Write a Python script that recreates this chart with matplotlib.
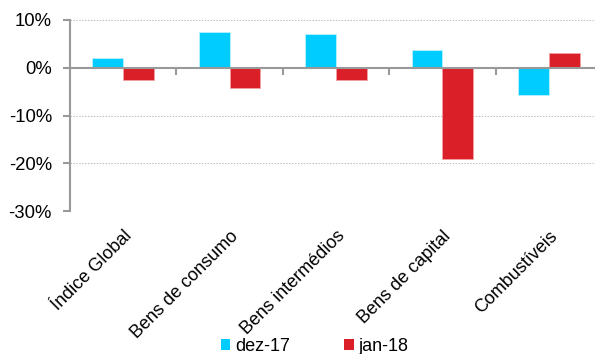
import numpy as np
import matplotlib.pyplot as plt
from matplotlib.patches import Patch
from matplotlib.ticker import FuncFormatter

plt.rcParams['font.family'] = ['Liberation Sans', 'DejaVu Sans']

categorias = ["Índice Global", "Bens de consumo", "Bens intermédios",
              "Bens de capital", "Combustíveis"]
dez17 = [2.1, 7.5, 7.1, 3.7, -5.7]
jan18 = [-2.6, -4.3, -2.5, -19.2, 3.1]
series = ["dez-17", "jan-18"]
cores = ["#00CCFF", "#DA1F28"]

x = np.arange(len(categorias))
w = 0.29

fig = plt.figure(figsize=(5.95, 3.54), dpi=100)
ax = fig.add_axes([70 / 595, 1 - 211 / 354, 532 / 595, 191 / 354])

ax.bar(x - w / 2, dez17, w, color=cores[0], edgecolor="#b8f0ff", linewidth=0.6, zorder=3)
ax.bar(x + w / 2, jan18, w, color=cores[1], edgecolor="#f0a0a4", linewidth=0.6, zorder=3)

ax.set_xlim(-0.5, len(categorias) - 0.5)
ax.set_ylim(-30, 10)
ax.set_yticks([-30, -20, -10, 0, 10])
ax.yaxis.set_major_formatter(FuncFormatter(lambda v, p: "%d%%" % v))
ax.grid(axis="y", color="#bbbbbb", linestyle=(0, (1.5, 1.5)), linewidth=0.7, zorder=0)

for s in ["top", "right"]:
    ax.spines[s].set_visible(False)
ax.spines["left"].set_color("#999999")
ax.spines["left"].set_linewidth(1.5)
ax.spines["bottom"].set_position(("data", 0))
ax.spines["bottom"].set_color("#999999")
ax.spines["bottom"].set_linewidth(1.5)
ax.spines["bottom"].set_zorder(4)

ax.tick_params(axis="y", direction="out", length=5, width=1.5, color="#999999",
               labelsize=13.3, pad=8, labelcolor="black")
ax.set_xticks(x)
ax.set_xticklabels([])
ax.tick_params(axis="x", which="major", length=0)
ax.set_xticks(x[:-1] + 0.5, minor=True)
ax.tick_params(axis="x", which="minor", direction="out", length=5, width=1.5, color="#999999")

sec = ax.secondary_xaxis(0)
sec.set_xticks(x)
sec.set_xticklabels(categorias, rotation=45, ha="right", rotation_mode="anchor", fontsize=13)
sec.tick_params(length=0, pad=12)
sec.spines["bottom"].set_visible(False)

handles = [Patch(facecolor=c, edgecolor="none") for c in cores]
fig.legend(handles, series, loc="center", bbox_to_anchor=(0.529, 0.022), ncol=2,
           frameon=False, fontsize=13, handlelength=0.52, handleheight=0.52,
           handletextpad=0.28, columnspacing=3.0)

fig.savefig("out.png", dpi=100)
